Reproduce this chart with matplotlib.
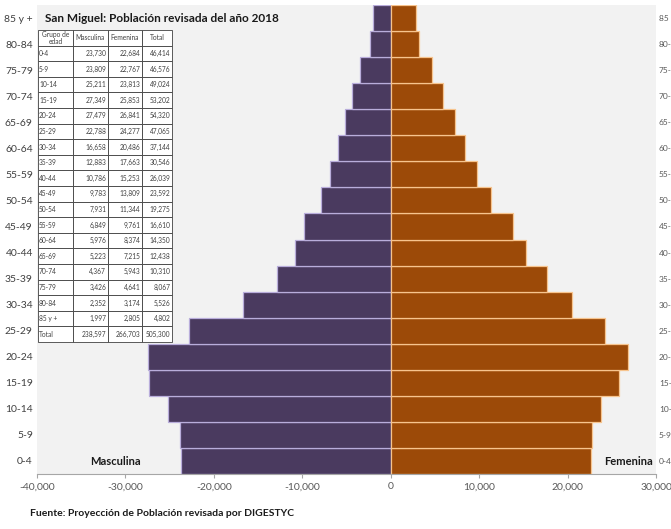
import matplotlib
matplotlib.use("Agg")
import matplotlib.pyplot as plt
import numpy as np

plt.rcParams['font.family'] = ['Lato', 'DejaVu Sans']

groups = ["0-4", "5-9", "10-14", "15-19", "20-24", "25-29", "30-34", "35-39",
          "40-44", "45-49", "50-54", "55-59", "60-64", "65-69", "70-74",
          "75-79", "80-84", "85 y +"]
male = [23730, 23809, 25211, 27349, 27479, 22788, 16658, 12883, 10786,
        9783, 7931, 6849, 5976, 5223, 4367, 3426, 2352, 1997]
female = [22684, 22767, 23813, 25853, 26841, 24277, 20486, 17663, 15253,
          13809, 11344, 9761, 8374, 7215, 5943, 4641, 3174, 2805]
totals = [46414, 46576, 49024, 53202, 54320, 47065, 37144, 30546, 26039,
          23592, 19275, 16610, 14350, 12438, 10310, 8067, 5526, 4802]
grand = [238597, 266703, 505300]
xticks = [-40000, -30000, -20000, -10000, 0, 10000, 20000, 30000]

W, H = 671, 529
fig = plt.figure(figsize=(W / 100, H / 100), dpi=100)
fig.patch.set_facecolor('white')

ax_l, ax_r, ax_t, ax_b = 37, 656, 5, 474
ax = fig.add_axes([ax_l / W, (H - ax_b) / H, (ax_r - ax_l) / W, (ax_b - ax_t) / H])
ax.set_facecolor('#f2f2f2')

purple = '#4a3a5f'
orange = '#9c4a08'
y = np.arange(len(groups))
ax.barh(y, -np.array(male), height=1.0, color=purple, edgecolor='#b9addb', linewidth=0.9)
ax.barh(y, np.array(female), height=1.0, color=orange, edgecolor='#f7c48e', linewidth=0.9)

ax.set_xlim(-40000, 30000)
ax.set_ylim(-0.5, len(groups) - 0.5)
ax.set_xticks(xticks)
ax.set_xticklabels([f"{v:,}" for v in xticks], fontsize=7.5, color='#595959')
ax.tick_params(axis='x', length=3, color='#a6a6a6', pad=3)
ax.set_yticks(y)
ax.set_yticklabels(groups, fontsize=7.5, color='#404040')
ax.tick_params(axis='y', length=0, pad=3)
for s in ['top', 'right', 'left']:
    ax.spines[s].set_visible(False)
ax.spines['bottom'].set_color('#a6a6a6')

ax2 = ax.twinx()
ax2.set_ylim(ax.get_ylim())
ax2.set_yticks(y)
ax2.set_yticklabels(groups, fontsize=6, color='#595959')
ax2.tick_params(axis='y', length=0, pad=2)
for s in ax2.spines.values():
    s.set_visible(False)

ax.text(0.127, 0.026, "Masculina", transform=ax.transAxes, fontsize=8,
        fontweight='bold', color='#1a1a1a', ha='center', va='center')
ax.text(0.955, 0.026, "Femenina", transform=ax.transAxes, fontsize=8,
        fontweight='bold', color='#1a1a1a', ha='center', va='center')

fig.text(45 / W, 1 - 18 / H, "San Miguel: Población revisada del año 2018",
         fontsize=8.5, fontweight='bold', color='#1a1a1a', ha='left', va='center')
fig.text(30 / W, 1 - 513 / H, "Fuente: Proyección de Población revisada por DIGESTYC",
         fontsize=7.5, fontweight='bold', color='#1a1a1a', ha='left', va='center')

# table
cells = [[g, f"{m:,}", f"{f:,}", f"{t:,}"] for g, m, f, t in zip(groups, male, female, totals)]
cells.append(["Total", f"{grand[0]:,}", f"{grand[1]:,}", f"{grand[2]:,}"])
col_labels = ["Grupo de\nedad", "Masculina", "Femenina", "Total"]
tx0, tx1, ty0, ty1 = 38, 172, 30, 342
bw = (ax_r - ax_l)
bh = (ax_b - ax_t)
tab = ax.table(cellText=cells, colLabels=col_labels,
               colWidths=[35, 35, 34, 30],
               bbox=[(tx0 - ax_l) / bw, (ax_b - ty1) / bh, (tx1 - tx0) / bw, (ty1 - ty0) / bh],
               zorder=5)
tab.auto_set_font_size(False)
for (r, c), cell in tab.get_celld().items():
    cell.set_facecolor('white')
    cell.set_edgecolor('#404040')
    cell.set_linewidth(0.6)
    txt = cell.get_text()
    txt.set_fontsize(4.8)
    txt.set_color('#404040')
    if r == 0:
        txt.set_ha('center')
        cell.PAD = 0.02
        if c == 0:
            txt.set_linespacing(1.0)
    elif c == 0:
        cell._loc = 'left'
        txt.set_ha('left')
        cell.PAD = 0.03
    else:
        cell._loc = 'right'
        txt.set_ha('right')
        cell.PAD = 0.05

fig.savefig("out.png", dpi=100, facecolor='white')
